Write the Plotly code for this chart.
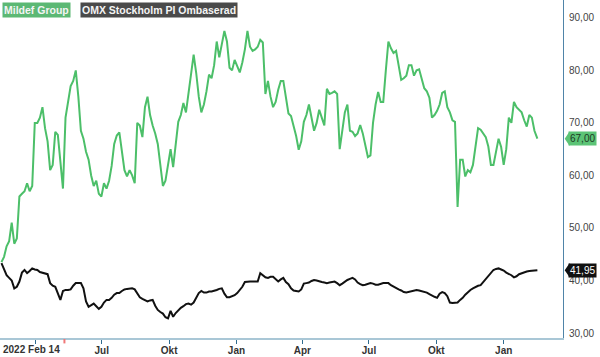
import pandas as pd
import plotly.graph_objects as go

# Twice-weekly observations starting 2022-02-14, plus final quote
start_date = "2022-02-14"
final_date = "2024-02-16"

mildef = [43.5, 44.5, 46.5, 47.5, 51.0, 47.0, 48.0, 56.0, 56.5, 57.0,
          58.5, 57.0, 58.0, 70.0, 70.0, 71.0, 73.0, 69.0, 66.5, 61.0,
          62.0, 68.3, 67.7, 62.0, 57.5, 71.0, 74.5, 77.0, 78.0, 80.0,
          75.0, 68.5, 67.0, 64.5, 63.0, 60.0, 58.0, 59.0, 56.5, 56.0,
          58.5, 57.5, 59.0, 61.8, 66.0, 67.6, 68.2, 65.0, 61.0, 59.8,
          61.0, 60.0, 58.5, 70.0, 69.5, 67.3, 73.0, 75.0, 71.5, 69.5,
          68.0, 66.0, 61.5, 58.0, 59.0, 62.5, 65.0, 61.6, 66.0, 70.2,
          71.5, 73.8, 72.0, 76.0, 80.0, 83.0, 79.5, 75.0, 72.0, 73.5,
          76.0, 79.2, 78.5, 81.0, 85.5, 82.5, 85.0, 87.5, 85.5, 80.5,
          80.0, 82.0, 80.8, 79.6, 81.5, 84.0, 87.5, 84.5, 83.7, 84.0,
          84.5, 85.8, 85.3, 75.5, 78.0, 75.0, 73.0, 74.0, 76.3, 78.0,
          78.0, 75.0, 71.8, 71.3, 69.5, 67.5, 64.9, 66.5, 70.2, 71.5,
          73.5, 71.0, 68.5, 70.0, 72.5, 71.0, 69.5, 76.5, 75.5, 75.7,
          76.0, 75.5, 65.0, 68.5, 72.0, 73.5, 68.5, 68.3, 67.5, 68.0,
          69.6, 68.0, 65.5, 63.5, 63.8, 70.0, 73.5, 75.9, 74.0, 74.0,
          80.0, 85.5, 84.2, 83.3, 83.7, 81.0, 78.2, 78.5, 79.0, 81.0,
          81.0, 79.0, 80.0, 80.2, 78.5, 76.6, 76.0, 74.8, 71.0, 71.5,
          72.3, 73.5, 75.7, 76.0, 73.0, 72.0, 70.5, 70.2, 54.0, 63.0,
          63.0, 59.8, 61.0, 60.6, 62.0, 66.0, 69.0, 68.7, 68.1, 67.3,
          65.5, 62.0, 62.0, 64.5, 67.0, 65.4, 62.0, 65.0, 71.0, 70.0,
          74.0, 73.0, 72.5, 72.0, 70.5, 69.3, 71.5, 71.0, 68.5, 67.0]

omx = [43.3, 42.0, 41.0, 40.5, 40.0, 38.5, 38.8, 39.8, 41.5, 42.0,
       41.4, 41.8, 42.3, 42.1, 42.0, 41.6, 41.5, 41.4, 41.2, 39.5,
       39.0, 38.8, 37.5, 36.3, 38.0, 38.2, 38.2, 38.3, 39.0, 39.5,
       39.5, 39.5, 38.5, 36.0, 35.0, 35.3, 35.6, 35.1, 34.6, 35.0,
       35.8, 36.3, 36.3, 36.7, 37.3, 37.6, 37.6, 38.0, 38.3, 38.4,
       38.5, 38.5, 38.3, 37.6, 36.8, 36.5, 36.2, 36.0, 36.2, 36.3,
       35.2, 34.4, 34.0, 33.7, 33.0, 32.8, 34.2, 33.1, 33.8, 34.4,
       34.8, 35.1, 35.5, 35.6, 35.4, 35.8, 36.7, 37.6, 38.0, 37.7,
       37.7, 37.9, 37.9, 38.0, 38.2, 38.4, 38.5, 37.5, 36.8, 36.8,
       37.0, 37.2, 37.6, 38.1, 38.8, 39.7, 39.8, 39.8, 39.8, 39.8,
       39.8, 41.4, 41.0, 40.6, 40.5, 40.7, 40.7, 40.2, 39.8, 40.2,
       40.5, 39.7, 39.3, 38.5, 38.1, 38.0, 37.9, 38.3, 39.4, 39.5,
       39.6, 39.9, 40.1, 40.0, 39.8, 39.7, 39.6, 39.5, 39.6, 39.7,
       39.8, 39.5, 39.1, 39.4, 39.8, 40.1, 40.3, 40.5, 40.2, 39.6,
       39.3, 39.1, 39.2, 39.3, 39.5, 39.4, 39.2, 39.2, 39.4, 39.5,
       39.5, 39.5, 39.1, 38.8, 38.5, 38.3, 38.1, 37.8, 37.7, 37.8,
       37.9, 38.1, 38.2, 38.1, 38.0, 37.9, 37.7, 37.4, 37.1, 36.9,
       36.7, 37.5, 37.8, 37.6, 37.0, 35.8, 35.7, 35.7, 35.8, 36.3,
       36.7, 37.3, 37.8, 38.2, 38.5, 38.8, 39.0, 39.1, 39.7, 40.2,
       40.8, 41.5, 42.0, 42.2, 42.3, 42.1, 41.9, 41.5, 41.3, 41.0,
       40.6, 40.8, 41.2, 41.4, 41.6, 41.7, 41.8, 41.9, 41.9, 41.95]

tick_dates = ["2022-04-01", "2022-07-01", "2022-10-01", "2023-01-01",
              "2023-04-01", "2023-07-01", "2023-10-01", "2024-01-01"]
tick_text = ["", "Jul", "Okt", "Jan", "Apr", "Jul", "Okt", "Jan"]
y_ticks = [30, 40, 50, 60, 70, 80, 90]
event_date = "2022-05-11"
start_label = "2022 Feb 14"

series_names = ["Mildef Group", "OMX Stockholm PI Ombaserad"]
green = "#4cbf69"
dark = "#111111"

dates = list(pd.date_range(start_date, periods=len(mildef) - 1, freq="84h")) + [pd.Timestamp(final_date)]

fig = go.Figure()
fig.add_trace(go.Scatter(x=dates, y=omx, mode="lines", name=series_names[1],
                         line=dict(color=dark, width=2), showlegend=False))
fig.add_trace(go.Scatter(x=dates, y=mildef, mode="lines", name=series_names[0],
                         line=dict(color=green, width=2), showlegend=False))

font_family = "Liberation Sans, Arial, sans-serif"

fig.update_layout(
    width=600, height=357,
    margin=dict(l=0, r=37, t=0, b=19),
    paper_bgcolor="white", plot_bgcolor="white",
    separators=", ",
    font=dict(family=font_family, size=10, color="#333333"),
    xaxis=dict(
        range=["2022-02-12", "2024-03-22"],
        tickvals=tick_dates, ticktext=tick_text,
        showgrid=False, zeroline=False,
        showline=True, linecolor="#a9c7d6", linewidth=2,
        ticks="outside", ticklen=4, tickcolor="#2f6c8f", tickwidth=1,
        ticklabelstandoff=-2,
        tickfont=dict(family=font_family, size=10, color="#333333", weight="bold"),
    ),
    yaxis=dict(
        range=[29.05, 93.4], side="right",
        tickvals=y_ticks, tickformat=".2f",
        showgrid=False, zeroline=False,
        showline=True, linecolor="#4f84a8", linewidth=1,
        ticks="", ticklabelstandoff=3,
        tickfont=dict(family=font_family, size=10, color="#444444"),
    ),
)

# Event marker tick on x axis
fig.add_shape(type="line", xref="x", yref="paper", x0=event_date, x1=event_date,
              y0=-0.003, y1=-0.016, line=dict(color="#f07878", width=2))

# Start label
fig.add_annotation(x=0, xref="paper", y=0, yref="paper", yanchor="top", xanchor="left",
                   yshift=-4, xshift=1, text="<b>" + start_label + "</b>", showarrow=False,
                   font=dict(family=font_family, size=10, color="#333333"))

# Legend boxes
fig.add_annotation(x=0, xref="paper", y=1, yref="paper", xanchor="left", yanchor="top",
                   xshift=2, yshift=-2, text="<b>" + series_names[0] + "</b>", showarrow=False,
                   bgcolor="#5cb874", borderpad=1,
                   font=dict(family=font_family, size=10.5, color="#f4f4f4"))
fig.add_annotation(x=80 / 563, xref="paper", y=1, yref="paper", xanchor="left", yanchor="top",
                   yshift=-2, text="<b>" + series_names[1] + "</b>", showarrow=False,
                   bgcolor="#4a4a4a", borderpad=1,
                   font=dict(family=font_family, size=10.5, color="#f4f4f4"))

# Last-value labels
for val, bg, fg in [(mildef[-1], "#5cc476", "#1d3a24"), (omx[-1], "#111111", "#ffffff")]:
    fig.add_annotation(x=1, xref="paper", y=val, yref="y", xanchor="left", yanchor="middle",
                       xshift=5, text=f"{val:.2f}".replace(".", ","), showarrow=False,
                       bgcolor=bg, borderpad=1,
                       font=dict(family=font_family, size=10, color=fg))
    fig.add_shape(type="path", xref="paper", yref="y",
                  path=f"M 1.003 {val} L 1.012 {val + 1.4} L 1.012 {val - 1.4} Z",
                  fillcolor=bg, line=dict(width=0))

fig.write_html("out.html", config={"displayModeBar": False},
               post_script="document.body.style.margin='0';document.body.style.overflow='hidden';")
